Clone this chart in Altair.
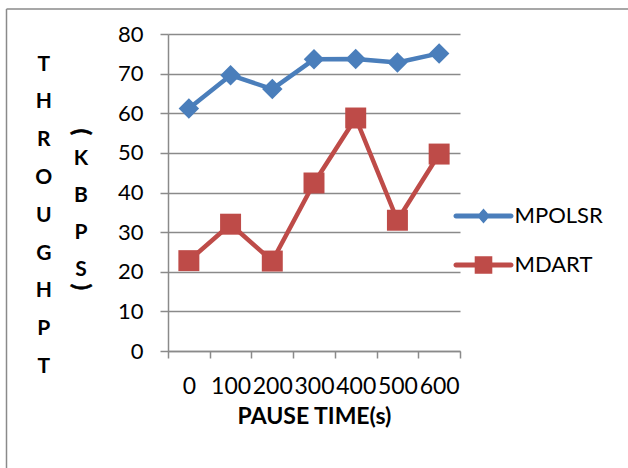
import altair as alt
import pandas as pd

# ---- data ----
pause_time = ["0", "100", "200", "300", "400", "500", "600"]
mpolsr = [61.2, 69.6, 66.1, 73.6, 73.7, 72.8, 75.1]
mdart = [22.8, 32.0, 22.7, 42.4, 58.8, 33.0, 49.7]
series_names = ["MPOLSR", "MDART"]
y_ticks = [0, 10, 20, 30, 40, 50, 60, 70, 80]
y_title_main = list("THROUGHPT")
y_title_unit = list("KBPS")
x_title = "PAUSE TIME(s)"

colors = ["#4A7EBB", "#BE4B48"]
marker_shapes = ["diamond", "square"]
marker_sizes = [420, 440]
GRID = "#8A8A8A"
FONT = "Lato"

df = pd.concat([
    pd.DataFrame({"pause": pause_time, "value": mpolsr, "series": series_names[0]}),
    pd.DataFrame({"pause": pause_time, "value": mdart, "series": series_names[1]}),
], ignore_index=True)

W, H = 292, 317

x_enc = alt.X(
    "pause:N", sort=pause_time,
    scale=alt.Scale(type="band", paddingInner=0, paddingOuter=0),
    axis=alt.Axis(
        title=x_title, labelAngle=0, labelFont=FONT, labelFontSize=23,
        labelColor="black", labelPadding=17, labelOverlap=False,
        tickBand="extent", tickSize=7, tickColor=GRID, tickWidth=1.5,
        domainColor=GRID, domainWidth=1.5, grid=False,
        titleFont=FONT, titleFontSize=23, titleFontWeight="bold",
        titleColor="black", titleBaseline="alphabetic", titleY=72,
    ),
)
y_enc = alt.Y(
    "value:Q",
    scale=alt.Scale(domain=[0, 80], nice=False, zero=True),
    axis=alt.Axis(
        values=y_ticks, labelFont=FONT, labelFontSize=22, labelColor="black",
        labelPadding=17, tickSize=8, tickColor=GRID, tickWidth=1.5,
        domainColor=GRID, domainWidth=1.5,
        grid=True, gridColor=GRID, gridWidth=1.5,
        title=y_title_main, titleAngle=0, titleAlign="center",
        titleBaseline="middle", titleX=-124.7, titleY=30,
        titleLineHeight=37.8, titleFont=FONT, titleFontSize=21,
        titleFontWeight="bold", titleColor="black",
    ),
)

base = alt.Chart(df)

# legend (drawn by the library's legend, symbols = line with marker)
line_part = "M-2.75,-0.25 H2.75 A0.25,0.25 0 0 1 2.75,0.25 H-2.75 A0.25,0.25 0 0 1 -2.75,-0.25 Z"
diamond_path = line_part + " M0,-0.75 L0.65,0 L0,0.75 L-0.65,0 Z"
square_path = line_part + " M-0.88,-0.88 H0.88 V0.88 H-0.88 Z"

leg = alt.Legend(
    title=None, orient="none", legendX=304.5, legendY=171, padding=0,
    labelFont=FONT, labelFontSize=22, labelColor="black", labelOffset=20,
    symbolSize=400, symbolStrokeWidth=0, rowPadding=27,
)
legend_layer = base.transform_filter("false").mark_point(
    filled=True, size=400, opacity=1, strokeWidth=0
).encode(
    x=x_enc, y=y_enc,
    color=alt.Color("series:N", scale=alt.Scale(domain=series_names, range=colors), legend=leg),
    shape=alt.Shape("series:N", scale=alt.Scale(domain=series_names,
                                                range=[diamond_path, square_path]),
                    legend=leg),
)

layers = [legend_layer]
for name, col, shp, sz in zip(series_names, colors, marker_shapes, marker_sizes):
    sub = base.transform_filter(alt.datum.series == name)
    layers.append(sub.mark_line(strokeWidth=4.5, strokeJoin="round", color=col)
                  .encode(x=x_enc, y=y_enc))
    layers.append(sub.mark_point(shape=shp, filled=True, size=sz, opacity=1,
                                 strokeWidth=0, color=col)
                  .encode(x=x_enc, y=y_enc))

one = pd.DataFrame({"k": [0]})
unit_letters = alt.Chart(one).mark_text(
    font=FONT, fontSize=21, fontWeight="bold", color="black",
    align="center", baseline="middle", lineHeight=37,
).encode(x=alt.value(-87), y=alt.value(125), text=alt.value(y_title_unit))

paren_open = alt.Chart(one).mark_text(
    font=FONT, fontSize=23, fontWeight="bold", color="black",
    stroke="black", strokeWidth=0.6,
    align="center", baseline="middle", angle=90,
).encode(x=alt.value(-87), y=alt.value(98), text=alt.value("("))

paren_close = alt.Chart(one).mark_text(
    font=FONT, fontSize=23, fontWeight="bold", color="black",
    stroke="black", strokeWidth=0.6,
    align="center", baseline="middle", angle=90,
).encode(x=alt.value(-87), y=alt.value(253), text=alt.value(")"))

frame_top = alt.Chart(one).mark_rule(color=GRID, strokeWidth=1.5).encode(
    x=alt.value(-161.5), x2=alt.value(470), y=alt.value(-25))
frame_left = alt.Chart(one).mark_rule(color=GRID, strokeWidth=1.5).encode(
    x=alt.value(-161.5), y=alt.value(-25), y2=alt.value(450))

layers += [unit_letters, paren_open, paren_close, frame_top, frame_left]

chart = alt.layer(*layers).properties(
    width=W, height=H,
    autosize=alt.AutoSizeParams(type="none"),
    padding={"left": 168, "top": 34, "right": 168, "bottom": 117},
    background="white",
).configure_view(stroke=None)

chart.save("out.html", embed_options={"renderer": "svg", "actions": False})
